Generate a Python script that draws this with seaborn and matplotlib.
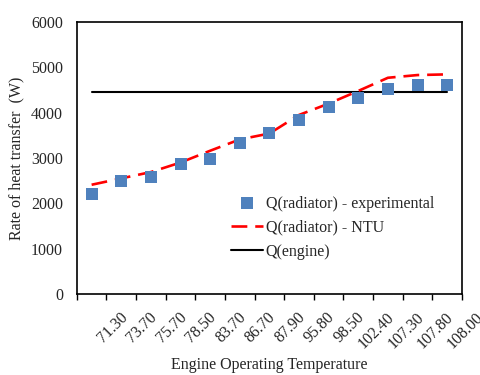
import matplotlib
matplotlib.use("Agg")
import matplotlib.pyplot as plt
import matplotlib.transforms as mtransforms
import numpy as np
import pandas as pd
import seaborn as sns

temps = ["71.30", "73.70", "75.70", "78.50", "83.70", "86.70", "87.90",
         "95.80", "98.50", "102.40", "107.30", "107.80", "108.00"]
q_experimental = [2206, 2486, 2588, 2870, 2971, 3342, 3545, 3838, 4132, 4331, 4515, 4610, 4610]
q_ntu = [2410, 2550, 2690, 2900, 3160, 3410, 3540, 3950, 4200, 4480, 4770, 4830, 4845]
q_engine = [4450] * len(temps)

df = pd.DataFrame({
    "pos": np.arange(len(temps)),
    "temp": temps,
    "exp": q_experimental,
    "ntu": q_ntu,
    "engine": q_engine,
})

sns.set_style("white")
plt.rcParams["font.family"] = ["Liberation Serif", "DejaVu Serif"]
plt.rcParams["font.size"] = 11.5

fig = plt.figure(figsize=(4.8, 3.75), dpi=100)
ax = fig.add_axes([0.160, 0.216, 0.8025, 0.7253])

sns.scatterplot(data=df, x="pos", y="exp", marker="s", s=70, color="#4F81BD",
                edgecolor="#4F81BD", linewidth=0, ax=ax, label="Q(radiator) - experimental", zorder=3)
sns.lineplot(data=df, x="pos", y="ntu", color="#FF0000", linewidth=1.9, ax=ax,
             label="Q(radiator) - NTU", dashes=False, zorder=2)
ax.lines[-1].set_dashes([6, 3])
sns.lineplot(data=df, x="pos", y="engine", color="black", linewidth=1.5, ax=ax,
             label="Q(engine)", zorder=1)

ax.set_xlim(-0.5, len(temps) - 0.5)
ax.set_ylim(0, 6000)
ax.set_yticks(np.arange(0, 6001, 1000))

# tick marks on category boundaries, labels shifted to the right
bounds = np.arange(-0.5, len(temps))
ax.set_xticks(bounds, [""] + temps)
ax.tick_params(axis="x", direction="out", length=4, width=1, color="black", pad=7, bottom=True)
ax.tick_params(axis="y", length=0, pad=10)
shift = mtransforms.ScaledTranslation(0.13, 0, fig.dpi_scale_trans)
for lab in ax.get_xticklabels():
    lab.set_rotation(45)
    lab.set_ha("right")
    lab.set_va("top")
    lab.set_rotation_mode("anchor")
    lab.set_transform(lab.get_transform() + shift)

for sp in ax.spines.values():
    sp.set_color("black")
    sp.set_linewidth(1.2)

ax.set_xlabel("Engine Operating Temperature", labelpad=4)
ax.set_ylabel("Rate of heat transfer  (W)", labelpad=5)

ax.legend(loc="upper left", bbox_to_anchor=(0.385, 0.385), frameon=False,
          handlelength=2.0, handletextpad=0.15, labelspacing=0.5, borderaxespad=0)

fig.savefig("out.png", dpi=100)
